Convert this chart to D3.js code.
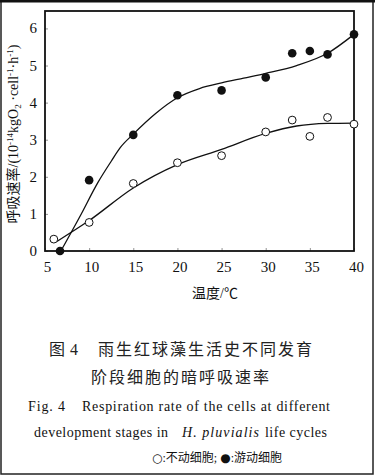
<!DOCTYPE html>
<html>
<head>
<meta charset="utf-8">
<script src="https://cdn.jsdelivr.net/npm/d3@7"></script>
<style>
  html, body { margin: 0; padding: 0; background: #fff; }
  svg { display: block; }
  text { font-family: "Liberation Serif", "Noto Sans CJK SC", serif; fill: #111; }
</style>
</head>
<body>
<div id="chart"></div>
<script>
// ── Respiration rate vs temperature, two cell types ──

// measured points (temperature °C, rate 10^-14 kgO2·cell^-1·h^-1)
const motileTemps   = [6.7, 10, 15, 20, 25, 30, 33, 35, 37, 40];
const motileRates   = [0.0, 1.91, 3.13, 4.2, 4.33, 4.68, 5.33, 5.39, 5.3, 5.84];
const nonMotileTemps = [6, 10, 15, 20, 25, 30, 33, 35, 37, 40];
const nonMotileRates = [0.32, 0.77, 1.82, 2.38, 2.57, 3.21, 3.53, 3.09, 3.6, 3.42];

// fitted curves as drawn in the figure
const motileFitTemps = [6.8, 9, 11, 12.5, 13.5, 15, 17.5, 20, 22.5, 25, 27.5, 30, 33.5, 37, 40];
const motileFitRates = [0.0, 0.95, 1.85, 2.42, 2.78, 3.15, 3.7, 4.13, 4.38, 4.53, 4.66, 4.79, 5.0, 5.33, 5.84];
const nonMotileFitTemps = [6.3, 10, 15, 20, 25, 30, 33.5, 37, 40];
const nonMotileFitRates = [0.25, 0.82, 1.7, 2.33, 2.74, 3.17, 3.37, 3.44, 3.45];

const xTicks = [5, 10, 15, 20, 25, 30, 35, 40];
const yTicks = [0, 1, 2, 3, 4, 5, 6];

const W = 375, H = 476;
const svg = d3.select('#chart').append('svg')
  .attr('width', W).attr('height', H);

// outer frame of the scanned figure
svg.append('rect')
  .attr('x', 1).attr('y', 1).attr('width', W - 3).attr('height', H - 3)
  .attr('fill', 'none').attr('stroke', '#222').attr('stroke-width', 1.5);
svg.append('line')
  .attr('x1', 0).attr('x2', W).attr('y1', 1).attr('y2', 1)
  .attr('stroke', '#111').attr('stroke-width', 3);

const plot = { left: 45, right: 354, top: 11, bottom: 251 };

const x = d3.scaleLinear().domain([5, 40]).range([plot.left, plot.right]);
const y = d3.scaleLinear().domain([0, 6.47]).range([plot.bottom, plot.top]);

// inward ticks
const xAxis = d3.axisBottom(x).tickValues(xTicks).tickSize(-3).tickFormat(d => d).tickPadding(10);
const yAxis = d3.axisLeft(y).tickValues(yTicks).tickSize(-3).tickFormat(d => d).tickPadding(8);

const gx = svg.append('g').attr('transform', `translate(0,${plot.bottom})`).call(xAxis);
const gy = svg.append('g').attr('transform', `translate(${plot.left},0)`).call(yAxis);
[gx, gy].forEach(g => {
  g.select('.domain').remove();
  g.selectAll('.tick line').attr('stroke', '#777').attr('stroke-width', 0.8);
  g.selectAll('.tick text')
    .style('font-family', '"Liberation Serif", "Times New Roman", serif')
    .style('font-size', '15px').style('fill', '#111');
});
gx.selectAll('.tick text').attr('dx', 2);
gy.selectAll('.tick text').attr('dy', '0.3em');

// plot frame
svg.append('rect')
  .attr('x', plot.left).attr('y', plot.top)
  .attr('width', plot.right - plot.left).attr('height', plot.bottom - plot.top)
  .attr('fill', 'none').attr('stroke', '#111').attr('stroke-width', 1.8);

// fitted curves
const line = d3.line()
  .x(d => x(d[0])).y(d => y(d[1]))
  .curve(d3.curveMonotoneX);

const motileFit = motileFitTemps.map((t, i) => [t, motileFitRates[i]]);
const nonMotileFit = nonMotileFitTemps.map((t, i) => [t, nonMotileFitRates[i]]);

[motileFit, nonMotileFit].forEach(pts => {
  svg.append('path')
    .attr('d', line(pts))
    .attr('fill', 'none').attr('stroke', '#111').attr('stroke-width', 1.3);
});

// points
svg.append('g').selectAll('circle')
  .data(nonMotileTemps.map((t, i) => [t, nonMotileRates[i]]))
  .join('circle')
  .attr('cx', d => x(d[0])).attr('cy', d => y(d[1]))
  .attr('r', 3.9)
  .attr('fill', '#fff').attr('stroke', '#111').attr('stroke-width', 1);

svg.append('g').selectAll('circle')
  .data(motileTemps.map((t, i) => [t, motileRates[i]]))
  .join('circle')
  .attr('cx', d => x(d[0])).attr('cy', d => y(d[1]))
  .attr('r', 4.3)
  .attr('fill', '#111');

// axis titles
svg.append('text')
  .attr('x', 215).attr('y', 298)
  .attr('text-anchor', 'middle')
  .attr('font-size', 14)
  .text('温度/℃');

const yTitle = svg.append('text')
  .attr('transform', 'translate(18,134) rotate(-90)')
  .attr('text-anchor', 'middle')
  .attr('font-size', 14);
yTitle.append('tspan').text('呼吸速率/(10');
yTitle.append('tspan').attr('font-size', 9).attr('dy', -5).text('-14');
yTitle.append('tspan').attr('dy', 5).text('kgO');
yTitle.append('tspan').attr('font-size', 9).attr('dy', 3).text('2');
yTitle.append('tspan').attr('dy', -3).text(' ·cell');
yTitle.append('tspan').attr('font-size', 9).attr('dy', -5).text('-1');
yTitle.append('tspan').attr('dy', 5).text('·h');
yTitle.append('tspan').attr('font-size', 9).attr('dy', -5).text('-1');
yTitle.append('tspan').attr('dy', 5).text(')');

// caption
const cap = svg.append('g');
cap.append('text').attr('x', 49).attr('y', 355).attr('font-size', 16)
  .style('fill', '#222').attr('textLength', 29).text('图 4');
cap.append('text').attr('x', 98).attr('y', 355).attr('font-size', 16)
  .style('fill', '#222').attr('textLength', 214).text('雨生红球藻生活史不同发育');
cap.append('text').attr('x', 91).attr('y', 383).attr('font-size', 16)
  .style('fill', '#222').attr('textLength', 178).text('阶段细胞的暗呼吸速率');

cap.append('text').attr('x', 28).attr('y', 411).attr('font-size', 14)
  .attr('textLength', 37).text('Fig. 4');
cap.append('text').attr('x', 82).attr('y', 411).attr('font-size', 14)
  .attr('textLength', 248).text('Respiration rate of the cells at different');

cap.append('text').attr('x', 34).attr('y', 437).attr('font-size', 14)
  .attr('textLength', 134).text('development stages in');
cap.append('text').attr('x', 182).attr('y', 437).attr('font-size', 14)
  .attr('font-style', 'italic').attr('textLength', 77).text('H. pluvialis');
cap.append('text').attr('x', 265).attr('y', 437).attr('font-size', 14)
  .attr('textLength', 62).text('life cycles');

// legend line of the caption
const leg = cap.append('text').attr('x', 152).attr('y', 462).attr('font-size', 12);
leg.append('tspan').style('font-family', '"DejaVu Sans", sans-serif').attr('font-size', 12).text('○');
leg.append('tspan').text(':不动细胞; ');
leg.append('tspan').style('font-family', '"DejaVu Sans", sans-serif').attr('font-size', 12).text('●');
leg.append('tspan').text(':游动细胞');
</script>
</body>
</html>
